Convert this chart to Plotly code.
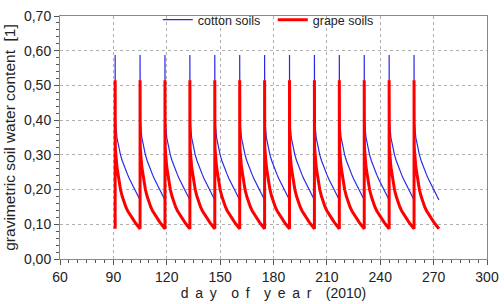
import plotly.graph_objects as go

# ---- data ----
irrigation_days = [91, 105, 119, 133, 147, 161, 175, 189, 203, 217, 231, 245, 259]
# day offsets within one irrigation cycle (0 = irrigation, peak)
cycle_offsets = [0, 0.1, 1, 2, 3, 4, 5, 6, 7, 8, 9, 10, 11, 12, 13, 14]
cotton_cycle = [0.588, 0.40, 0.35, 0.322, 0.30, 0.283, 0.268, 0.255, 0.243,
                0.231, 0.22, 0.21, 0.20, 0.19, 0.18, 0.17]
grape_cycle = [0.515, 0.32, 0.265, 0.225, 0.20, 0.18, 0.163, 0.15, 0.139,
               0.13, 0.122, 0.114, 0.107, 0.10, 0.094, 0.087]
cotton_start = 0.17
grape_start = 0.087

x_ticks = [60, 90, 120, 150, 180, 210, 240, 270, 300]
y_ticks = [0.0, 0.1, 0.2, 0.3, 0.4, 0.5, 0.6, 0.7]


def build(days, offsets, cycle, start):
    xs, ys = [days[0]], [start]
    for d in days:
        for o, v in zip(offsets, cycle):
            xs.append(d + o)
            ys.append(v)
    return xs, ys


cx, cy = build(irrigation_days, cycle_offsets, cotton_cycle, cotton_start)
gx, gy = build(irrigation_days, cycle_offsets, grape_cycle, grape_start)

fig = go.Figure()
fig.add_trace(go.Scatter(x=cx, y=cy, mode="lines", name="cotton soils",
                         line=dict(color="#2a2ae6", width=1.2)))
fig.add_trace(go.Scatter(x=gx, y=gy, mode="lines", name="grape soils",
                         line=dict(color="#ff0000", width=3)))

font = "Liberation Sans, Arial, sans-serif"
sp = "\u00a0\u2009"
wsp = "\u00a0\u00a0\u00a0\u2009"
xtitle = wsp.join(sp.join(w) for w in ["day", "of", "year"]) + wsp + "(2010)"

fig.update_layout(
    width=504, height=304,
    margin=dict(l=60, r=7, t=5, b=44),
    paper_bgcolor="white", plot_bgcolor="white",
    separators=", ",
    font=dict(family=font, size=14, color="#222"),
    showlegend=True,
    legend=dict(orientation="h", x=0.229, y=1.045, xanchor="left", yanchor="top",
                bgcolor="rgba(0,0,0,0)", font=dict(size=12.5, color="#222"),
                itemwidth=30, tracegroupgap=0,
                entrywidth=70, entrywidthmode="pixels"),
)
fig.update_xaxes(
    range=[60, 300], tickvals=x_ticks, ticks="outside", ticklen=5,
    tickcolor="#555", showline=True, linecolor="#888", mirror=True,
    showgrid=True, gridcolor="#b0b0b0", griddash="dot", gridwidth=1,
    zeroline=False, ticklabeloverflow="allow",
    minor=dict(dtick=5, ticks="outside", ticklen=3, tickcolor="#555", showgrid=False),
    title=dict(text=xtitle, standoff=4, font=dict(size=14)),
)
fig.update_yaxes(
    range=[0, 0.70], tickvals=y_ticks, tickformat=".2f", ticks="outside",
    ticklen=5, tickcolor="#555", showline=True, linecolor="#888", mirror=True,
    showgrid=True, gridcolor="#b0b0b0", griddash="dot", gridwidth=1,
    zeroline=False, ticklabeloverflow="allow",
    minor=dict(dtick=0.02, ticks="outside", ticklen=3, tickcolor="#555", showgrid=False),
    title=dict(text="gravimetric soil water content\u00a0\u00a0[1]", standoff=4,
               font=dict(size=15.5)),
)

fig.write_html("out.html")
